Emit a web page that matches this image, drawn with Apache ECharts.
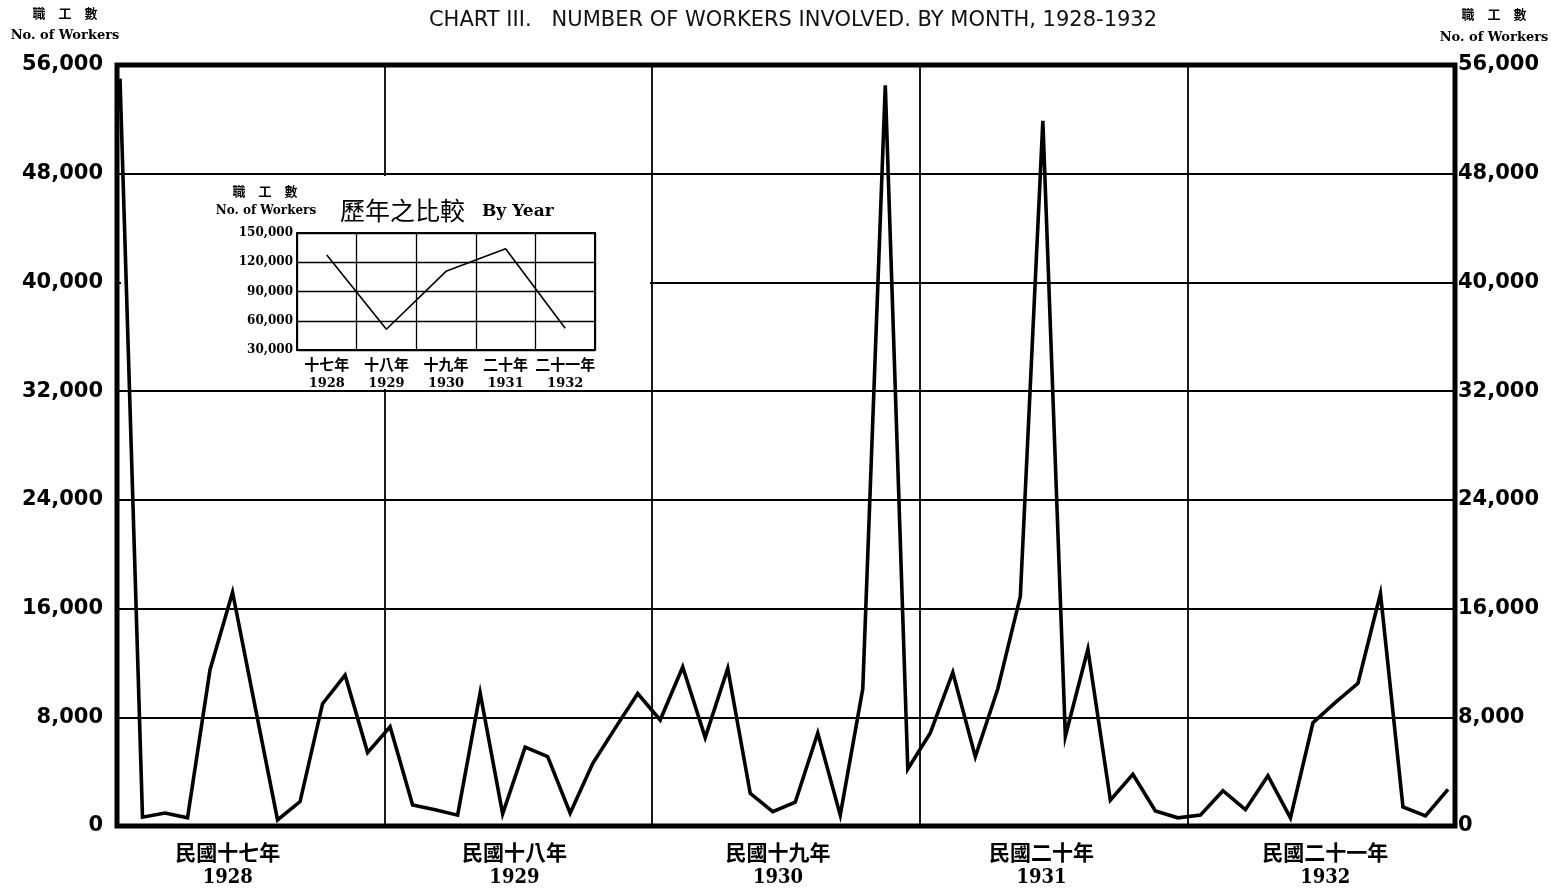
<!DOCTYPE html>
<html><head><meta charset="utf-8">
<script src="https://cdn.jsdelivr.net/npm/echarts@6/dist/echarts.min.js"></script>
<style>html,body{margin:0;padding:0;background:#fff}#c{width:1551px;height:890px}</style>
</head><body><div id="c"></div>
<script>
// ---- data ----
const years = ['1928', '1929', '1930', '1931', '1932'];
const yearNamesCn = ['民國十七年', '民國十八年', '民國十九年', '民國二十年', '民國二十一年'];
const insetYearNamesCn = ['十七年', '十八年', '十九年', '二十年', '二十一年'];
const monthNames = ['Jan', 'Feb', 'Mar', 'Apr', 'May', 'Jun', 'Jul', 'Aug', 'Sep', 'Oct', 'Nov', 'Dec'];
const workers1928 = [55000, 650, 950, 600, 11500, 17200, 8800, 450, 1800, 9000, 11100, 5400];
const workers1929 = [7300, 1550, 1200, 800, 9800, 900, 5800, 5100, 950, 4600, 7200, 9750];
const workers1930 = [7800, 11700, 6500, 11600, 2400, 1050, 1750, 6850, 800, 10100, 54500, 4200];
const workers1931 = [6850, 11300, 5100, 10100, 16900, 51900, 6600, 13000, 1900, 3800, 1100, 600];
const workers1932 = [800, 2600, 1200, 3700, 600, 7600, 9100, 10500, 17100, 1400, 750, 2700];
const yearlyTotals = [127500, 51300, 110700, 133900, 52300];
const mainTicks = [0, 8000, 16000, 24000, 32000, 40000, 48000, 56000];
const insetTicks = [30000, 60000, 90000, 120000, 150000];
const titleText = 'CHART III.   NUMBER OF WORKERS INVOLVED. BY MONTH, 1928-1932';
const yNameCn = '職　工　數';
const yNameEn = 'No. of Workers';
const insetTitle = '歷年之比較';
const insetTitleEn = 'By Year';

// ---- build ----
const monthCats = [];
years.forEach(y => monthNames.forEach(m => monthCats.push(y + '-' + m)));
const monthly = [].concat(workers1928, workers1929, workers1930, workers1931, workers1932);
const fmt = v => v.toLocaleString('en-US');
const BLACK = '#000';
const sansNum = '"DejaVu Sans", sans-serif';
const serifB = '"DejaVu Serif", serif';
const serifC = '"DejaVu Serif Condensed", "DejaVu Serif", serif';
const cjk = '"Noto Sans CJK TC", sans-serif';
// per-label horizontal nudges of the bottom year labels (style only)
const yearLabelPad = [[0, 46, 0, 0], [0, 8, 0, 0], [0, 16, 0, 0], [0, 24, 0, 0], [0, 0, 0, 8]];

const richBottom = {};
yearLabelPad.forEach((p, i) => {
  richBottom['a' + i] = {fontFamily: cjk, fontWeight: 'bold', fontSize: 21, color: BLACK, lineHeight: 26, padding: p};
  richBottom['b' + i] = {fontFamily: serifC, fontWeight: 'bold', fontSize: 20, color: BLACK, lineHeight: 26, padding: p};
});

const chart = echarts.init(document.getElementById('c'), null, {renderer: 'canvas'});
chart.setOption({
  animation: false,
  backgroundColor: '#fff',
  grid: [
    {left: 117, top: 65, width: 1338, height: 761, show: true, borderWidth: 5, borderColor: BLACK, z: 0},
    {left: 120, top: 65, width: 1328, height: 761, show: false},
    {left: 297, top: 233, width: 298, height: 117, show: true, borderWidth: 2, borderColor: BLACK, z: 2}
  ],
  xAxis: [
    {
      gridIndex: 0, type: 'category', data: years, boundaryGap: true,
      axisLine: {show: false}, axisTick: {show: false},
      splitLine: {show: true, lineStyle: {color: BLACK, width: 1.8}},
      axisLabel: {
        margin: 13, interval: 0,
        formatter: (v, i) => '{a' + i + '|' + yearNamesCn[i] + '}\n{b' + i + '|' + v + '}',
        rich: richBottom
      }
    },
    {gridIndex: 1, type: 'category', data: monthCats, boundaryGap: false, show: false},
    {
      gridIndex: 2, type: 'category', data: years, boundaryGap: true, z: 2,
      axisLine: {show: false}, axisTick: {show: false},
      splitLine: {show: true, lineStyle: {color: BLACK, width: 1.3}},
      axisLabel: {
        margin: 4, interval: 0,
        formatter: (v, i) => '{a|' + insetYearNamesCn[i] + '}\n{b|' + v + '}',
        rich: {
          a: {fontFamily: cjk, fontWeight: 'bold', fontSize: 15, color: BLACK, lineHeight: 20},
          b: {fontFamily: serifB, fontWeight: 'bold', fontSize: 13, color: BLACK, lineHeight: 20}
        }
      }
    }
  ],
  yAxis: [
    {
      gridIndex: 0, type: 'value', position: 'left',
      min: mainTicks[0], max: mainTicks[mainTicks.length - 1], interval: mainTicks[1] - mainTicks[0],
      axisLine: {show: false}, axisTick: {show: false},
      splitLine: {show: true, lineStyle: {color: BLACK, width: 1.8}},
      axisLabel: {margin: 14, formatter: fmt, fontFamily: sansNum, fontWeight: 'bold', fontSize: 21, color: BLACK}
    },
    {
      gridIndex: 0, type: 'value', position: 'right',
      min: mainTicks[0], max: mainTicks[mainTicks.length - 1], interval: mainTicks[1] - mainTicks[0],
      axisLine: {show: false}, axisTick: {show: false}, splitLine: {show: false},
      axisLabel: {margin: 3, formatter: fmt, fontFamily: sansNum, fontWeight: 'bold', fontSize: 21, color: BLACK}
    },
    {
      gridIndex: 1, type: 'value', show: false,
      min: mainTicks[0], max: mainTicks[mainTicks.length - 1]
    },
    {
      gridIndex: 2, type: 'value', z: 2,
      min: insetTicks[0], max: insetTicks[insetTicks.length - 1], interval: insetTicks[1] - insetTicks[0],
      axisLine: {show: false}, axisTick: {show: false},
      splitLine: {show: true, lineStyle: {color: BLACK, width: 1.3}},
      axisLabel: {margin: 4, formatter: fmt, fontFamily: serifB, fontWeight: 'bold', fontSize: 12, color: BLACK}
    }
  ],
  series: [
    {
      type: 'line', xAxisIndex: 1, yAxisIndex: 2, data: monthly, z: 5,
      symbol: 'none', lineStyle: {color: BLACK, width: 3.6, join: 'miter'}
    },
    {
      type: 'line', xAxisIndex: 2, yAxisIndex: 3, data: yearlyTotals, z: 4,
      symbol: 'none', lineStyle: {color: BLACK, width: 1.6}
    }
  ],
  graphic: {
    elements: [
      {type: 'rect', z: 1, shape: {x: 121, y: 176, width: 529, height: 213}, style: {fill: '#fff'}},
      {type: 'text', z: 10, x: 793, y: 10, style: {text: titleText, font: '21px "DejaVu Sans"', fill: '#111', align: 'center'}},
      {type: 'text', z: 10, x: 65, y: 7, style: {text: yNameCn, font: 'bold 13px "Noto Sans CJK TC"', fill: BLACK, align: 'center'}},
      {type: 'text', z: 10, x: 65, y: 29, style: {text: yNameEn, font: 'bold 13px "DejaVu Serif"', fill: BLACK, align: 'center'}},
      {type: 'text', z: 10, x: 1494, y: 8, style: {text: yNameCn, font: 'bold 13px "Noto Sans CJK TC"', fill: BLACK, align: 'center'}},
      {type: 'text', z: 10, x: 1494, y: 31, style: {text: yNameEn, font: 'bold 13px "DejaVu Serif"', fill: BLACK, align: 'center'}},
      {type: 'text', z: 10, x: 265, y: 185, style: {text: yNameCn, font: 'bold 13px "Noto Sans CJK TC"', fill: BLACK, align: 'center'}},
      {type: 'text', z: 10, x: 266, y: 205, style: {text: yNameEn, font: 'bold 12px "DejaVu Serif"', fill: BLACK, align: 'center'}},
      {type: 'text', z: 10, x: 340, y: 198, style: {text: insetTitle, font: '25px "Noto Sans CJK TC"', fill: BLACK}},
      {type: 'text', z: 10, x: 482, y: 203, style: {text: insetTitleEn, font: 'bold 17px "DejaVu Serif"', fill: BLACK}}
    ]
  }
});
</script></body></html>
